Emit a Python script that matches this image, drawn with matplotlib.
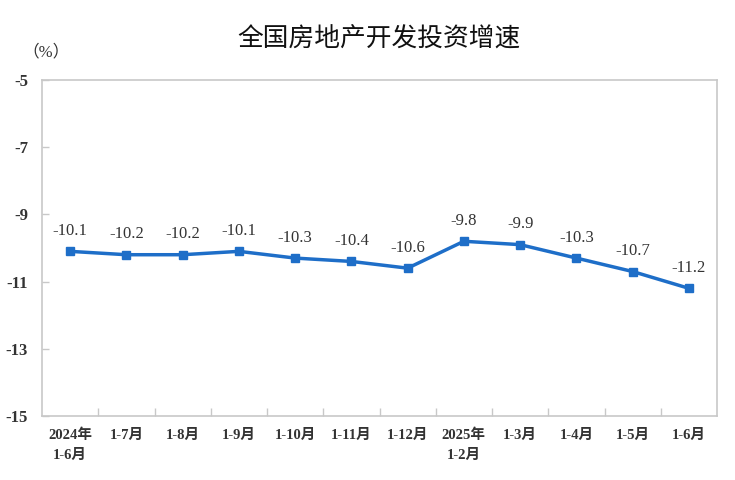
import matplotlib.pyplot as plt
from matplotlib.ticker import FixedLocator

plt.rcParams['font.family'] = ['Liberation Serif', 'Noto Sans CJK SC']

# 数据
categories = ["2024年\n1-6月", "1-7月", "1-8月", "1-9月", "1-10月", "1-11月", "1-12月",
              "2025年\n1-2月", "1-3月", "1-4月", "1-5月", "1-6月"]
growth = [-10.1, -10.2, -10.2, -10.1, -10.3, -10.4, -10.6, -9.8, -9.9, -10.3, -10.7, -11.2]
yticks = [-15, -13, -11, -9, -7, -5]

line_color = '#1e6ec8'
text_color = '#333333'
frame_color = '#c8c8c8'

fig = plt.figure(figsize=(7.35, 4.8), dpi=100)
ax = fig.add_axes([42 / 735, 1 - 416 / 480, 675 / 735, 336 / 480])

x = list(range(len(categories)))
ax.plot(x, growth, color=line_color, linewidth=2.5, marker='s', markersize=6, zorder=3)

for xi, v in zip(x, growth):
    ax.annotate(f"{v:.1f}", (xi, v), xytext=(0, 9), textcoords='offset points',
                ha='center', va='bottom', fontsize=12, color=text_color)

ax.set_xlim(-0.5, len(categories) - 0.5)
ax.set_ylim(-15, -5)
ax.set_yticks(yticks)
ax.set_yticklabels([str(t) for t in yticks], fontsize=12, fontweight='bold', color=text_color)

# 类别标签居中，刻度线在类别之间
ax.set_xticks(x)
ax.set_xticklabels(categories, fontsize=10.5, fontweight='bold', color=text_color, linespacing=1.7)
ax.tick_params(axis='x', which='major', length=0, pad=9)
ax.xaxis.set_minor_locator(FixedLocator([i + 0.5 for i in range(len(categories) - 1)]))
ax.tick_params(axis='x', which='minor', direction='in', length=6, color=frame_color, width=1)
ax.tick_params(axis='y', direction='in', length=5, color=frame_color, width=1, pad=10)

for s in ax.spines.values():
    s.set_color(frame_color)
    s.set_linewidth(1.2)

fig.text(22 / 735, 1 - 52 / 480, "（%）", fontsize=12, color=text_color, va='center', ha='left')
fig.text(379 / 735, 1 - 40 / 480, "全国房地产开发投资增速", fontsize=18.5, color='#111111',
         ha='center', va='center', family=['Noto Sans CJK SC'])

fig.savefig("out.png", dpi=100)
